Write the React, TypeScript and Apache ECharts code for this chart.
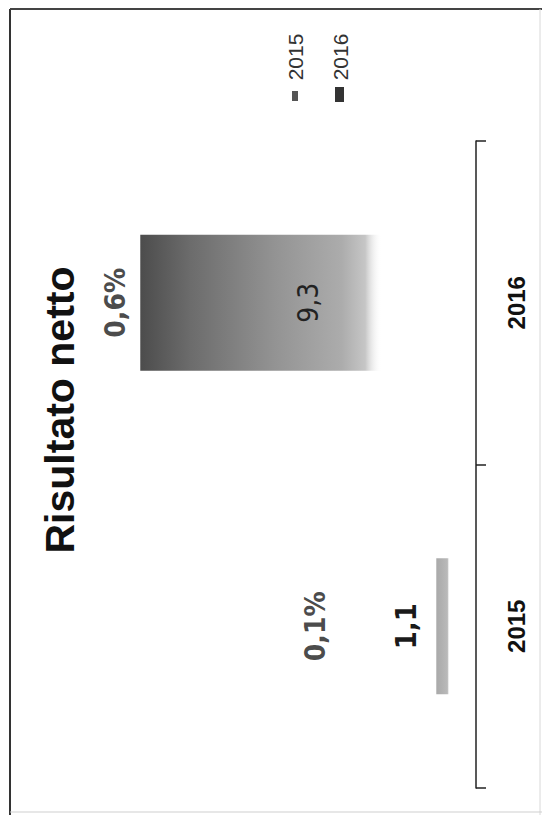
import React, { useEffect, useRef } from "react";
import * as echarts from "echarts";

const categories = ["2015", "2016"];
const netResult = [1.1, 9.3];
const netMarginPct = [0.1, 0.6];
const legendNames = ["2015", "2016"];
const titleText = "Risultato netto";

const fmt = (v: number) => v.toFixed(1).replace(".", ",");

export default function App() {
  const ref = useRef<HTMLDivElement>(null);
  useEffect(() => {
    if (!ref.current) return;
    const chart = echarts.init(ref.current, null, { renderer: "svg" });

    const clear = "rgba(255,255,255,0)";
    const barGradients = [
      new echarts.graphic.LinearGradient(0, 0, 1, 0, [
        { offset: 0, color: "#a9a9a9" },
        { offset: 0.28, color: "#b9b9b9" },
        { offset: 0.34, color: clear },
        { offset: 1, color: clear },
      ]),
      new echarts.graphic.LinearGradient(0, 0, 1, 0, [
        { offset: 0, color: "#4c4c4c" },
        { offset: 0.15, color: "#6c6c6c" },
        { offset: 0.4, color: "#939393" },
        { offset: 0.6, color: "#acacac" },
        { offset: 0.67, color: "#c6c6c6" },
        { offset: 0.72, color: clear },
        { offset: 1, color: clear },
      ]),
    ];
    const barLabels = [
      {
        show: true,
        position: "left",
        distance: 30,
        rotate: 90,
        align: "center",
        verticalAlign: "middle",
        fontFamily: "Liberation Sans Narrow, DejaVu Sans Condensed, sans-serif",
        fontWeight: "bold",
        fontSize: 29,
        color: "#1a1a1a",
      },
      {
        show: true,
        position: "inside",
        rotate: 90,
        fontFamily: "Liberation Sans Narrow, DejaVu Sans Condensed, sans-serif",
        fontSize: 28,
        color: "#222",
      },
    ];

    const legendGraphics: any[] = [];
    legendNames.forEach((name, i) => {
      const cx = 295 + i * 45;
      legendGraphics.push({
        type: "text",
        x: cx,
        y: 57,
        rotation: Math.PI / 2,
        style: {
          text: name,
          fontFamily: "Liberation Sans, Arial, sans-serif",
          fontSize: 21,
          fill: "#333",
          align: "center",
          verticalAlign: "middle",
        },
      });
      legendGraphics.push({
        type: "rect",
        shape: i === 0 ? { x: cx - 3, y: 91, width: 6, height: 10 } : { x: cx - 5, y: 87, width: 9, height: 15 },
        style: { fill: i === 0 ? "#555" : "#333" },
      });
    });

    chart.setOption({
      animation: false,
      backgroundColor: "#ffffff",
      grid: { left: 115, right: 66, top: 141, bottom: 27, containLabel: false },
      xAxis: [
        { type: "value", min: 0, max: 10, inverse: true, show: false },
        { type: "value", min: -0.3, max: 0.6, inverse: true, show: false },
      ],
      yAxis: {
        type: "category",
        data: categories,
        position: "right",
        axisLine: { show: true, lineStyle: { color: "#222", width: 1.5 } },
        axisTick: { show: true, length: 10, lineStyle: { color: "#222", width: 1.5 } },
        axisLabel: {
          rotate: 90,
          fontSize: 24,
          fontWeight: "bold",
          color: "#111",
          fontFamily: "Liberation Sans, Arial, sans-serif",
          margin: 28,
        },
        splitLine: { show: false },
      },
      series: [
        {
          type: "bar",
          name: "Risultato",
          barWidth: "42%",
          data: netResult.map((v, i) => ({
            value: v,
            itemStyle: { color: barGradients[i] },
            label: barLabels[i],
          })),
          label: { formatter: (p: any) => fmt(p.value) },
        },
        {
          type: "scatter",
          name: "Margine",
          xAxisIndex: 1,
          symbolSize: 1,
          itemStyle: { color: "rgba(0,0,0,0)" },
          data: netMarginPct.map((v, i) => [v, i]),
          label: {
            show: true,
            position: "inside",
            rotate: 90,
            formatter: (p: any) => fmt(p.value[0]) + "%",
            fontFamily: "Liberation Sans Narrow, DejaVu Sans Condensed, sans-serif",
            fontWeight: "bold",
            fontSize: 28,
            color: "#1a1a1a",
          },
        },
      ],
      graphic: [
        {
          type: "line",
          shape: { x1: 10, y1: 9, x2: 10, y2: 815 },
          style: { stroke: "#333", lineWidth: 2 },
        },
        {
          type: "line",
          shape: { x1: 10, y1: 9, x2: 542, y2: 9 },
          style: { stroke: "#444", lineWidth: 2 },
        },
        {
          type: "line",
          shape: { x1: 540, y1: 9, x2: 540, y2: 815 },
          style: { stroke: "#d8d8d8", lineWidth: 1 },
        },
        {
          type: "line",
          shape: { x1: 10, y1: 812, x2: 542, y2: 812 },
          style: { stroke: "#cfcfcf", lineWidth: 1 },
        },
        {
          type: "text",
          x: 60,
          y: 410,
          rotation: Math.PI / 2,
          style: {
            text: titleText,
            fontFamily: "Liberation Sans, Arial, sans-serif",
            fontWeight: "bold",
            fontSize: 41,
            fill: "#111",
            align: "center",
            verticalAlign: "middle",
          },
        },
        ...legendGraphics,
      ],
    });
    return () => chart.dispose();
  }, []);
  return (
    <div
      ref={ref}
      style={{ position: "absolute", left: 0, top: 0, width: 542, height: 815 }}
    />
  );
}
